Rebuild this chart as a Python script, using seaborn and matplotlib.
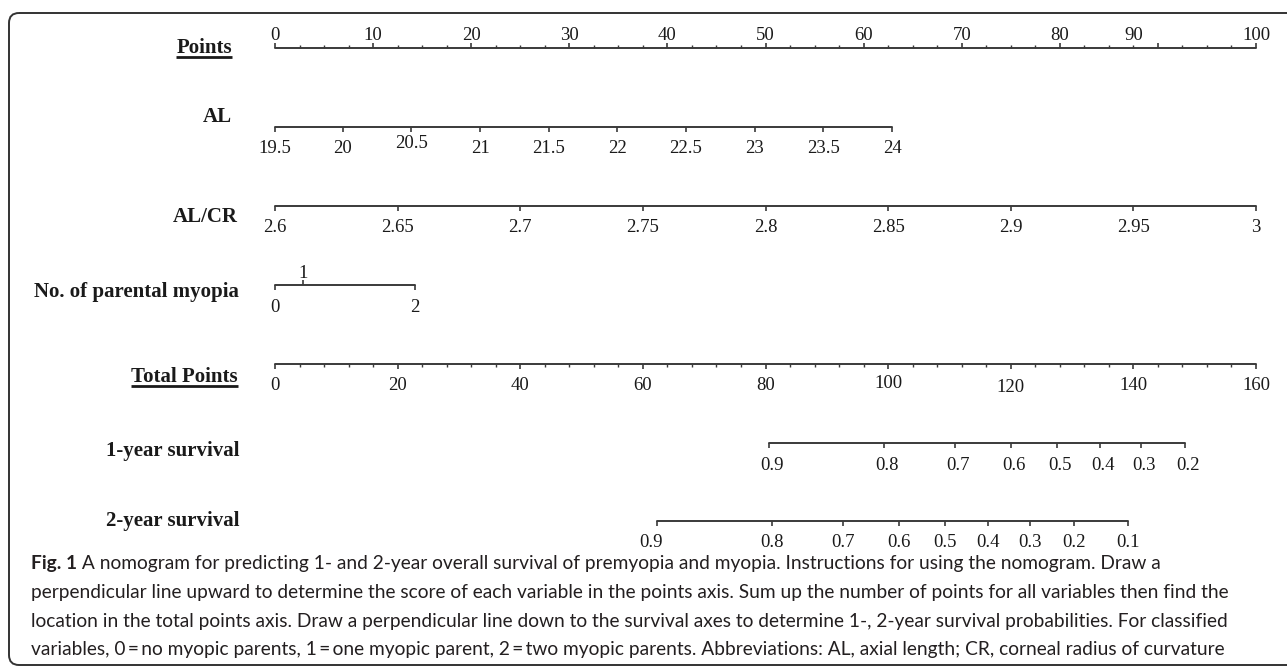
import matplotlib
matplotlib.use('Agg')
import matplotlib.pyplot as plt
import seaborn as sns
import pandas as pd
import numpy as np
from matplotlib.patches import FancyBboxPatch

# ---- data ----
points_vals = [0, 10, 20, 30, 40, 50, 60, 70, 80, 90, 100]

al_vals = ['19.5', '20', '20.5', '21', '21.5', '22', '22.5', '23', '23.5', '24']
al_pts = [0, 6.9, 13.9, 20.9, 27.9, 34.9, 41.9, 48.9, 55.9, 62.9]

alcr_vals = ['2.6', '2.65', '2.7', '2.75', '2.8', '2.85', '2.9', '2.95', '3']
alcr_pts = [0, 12.5, 25, 37.5, 50, 62.5, 75, 87.5, 100]

parent_vals = ['0', '1', '2']
parent_pts = [0, 2.9, 14.3]

total_vals = [0, 20, 40, 60, 80, 100, 120, 140, 160]

surv1_vals = ['0.9', '0.8', '0.7', '0.6', '0.5', '0.4', '0.3', '0.2']
surv1_total = [80.6, 99.3, 110.9, 120.0, 127.6, 134.5, 141.3, 148.5]

surv2_vals = ['0.9', '0.8', '0.7', '0.6', '0.5', '0.4', '0.3', '0.2', '0.1']
surv2_total = [62.3, 81.0, 92.7, 101.7, 109.3, 116.3, 123.1, 130.3, 139.2]

caption = [
    ' A nomogram for predicting 1- and 2-year overall survival of premyopia and myopia. Instructions for using the nomogram. Draw a',
    'perpendicular line upward to determine the score of each variable in the points axis. Sum up the number of points for all variables then find the',
    'location in the total points axis. Draw a perpendicular line down to the survival axes to determine 1-, 2-year survival probabilities. For classified',
    'variables, 0\u2009=\u2009no myopic parents, 1\u2009=\u2009one myopic parent, 2\u2009=\u2009two myopic parents. Abbreviations: AL, axial length; CR, corneal radius of curvature',
]

# ---- styling ----
sns.set_style('white')
W, H = 1287, 670
LINE = '#3a3a3a'
TXT = '#1a1a1a'
SERIF = 'Liberation Serif'
PX0, PX100 = 275, 1256          # pixel x of 0 and 100 points
ppp = (PX100 - PX0) / 100.0

fig = plt.figure(figsize=(W / 100, H / 100), dpi=100)

def make_ax(scale):
    a = fig.add_axes([0, 0, 1, 1])
    a.set_xlim(-PX0 / ppp * scale, (W - PX0) / ppp * scale)
    a.set_ylim(H, 0)
    a.axis('off')
    a.patch.set_alpha(0)
    return a

ax_px = fig.add_axes([0, 0, 1, 1])
ax_px.set_xlim(0, W)
ax_px.set_ylim(H, 0)
ax_px.axis('off')
ax_pts = make_ax(1.0)
ax_tp = make_ax(1.6)


def px(ax, dx):
    # convert a pixel offset into data units of ax
    x0, x1 = ax.get_xlim()
    return dx * (x1 - x0) / W


def scale(ax, pos, labels, y, tick_dir, base, minor=None, up_idx=(), up_base=None,
          dx=None, dy=None):
    df = pd.DataFrame({'x': [min(pos), max(pos)], 'y': [y, y]})
    sns.lineplot(data=df, x='x', y='y', ax=ax, color=LINE, lw=1.4, legend=False)
    for i, (p, lab) in enumerate(zip(pos, labels)):
        d = tick_dir
        b = base
        if i in up_idx:
            d = -1
            b = up_base
        ax.vlines(p, y, y + d * 5, color=LINE, lw=1.2)
        ox = px(ax, (dx or {}).get(i, 0))
        oy = (dy or {}).get(i, 0)
        ax.text(p + ox, b + oy, lab, ha='center', va='baseline', fontsize=13.5,
                family=SERIF, color=TXT)
    if minor is not None:
        ax.vlines(minor, y, y + tick_dir * 3, color=LINE, lw=1.0)


# Points (ticks upward, labels above)
scale(ax_pts, points_vals, [str(v) for v in points_vals], 48, -1, 40,
      minor=[m for m in np.arange(0, 100.1, 2.5) if m % 10],
      dx={9: -24})
scale(ax_pts, al_pts, al_vals, 127, 1, 153, dy={2: -5})
scale(ax_pts, alcr_pts, alcr_vals, 206, 1, 232)
scale(ax_pts, parent_pts, parent_vals, 285, 1, 312, up_idx=(1,), up_base=278)
scale(ax_tp, total_vals, [str(v) for v in total_vals], 363.5, 1, 390,
      minor=[m for m in np.arange(0, 160.1, 4) if m % 20],
      dy={5: -2, 6: 2})
scale(ax_tp, surv1_total, surv1_vals, 442.5, 1, 470, dx={i: 3 for i in range(8)})
scale(ax_tp, surv2_total, surv2_vals, 521, 1, 547, dx={0: -6})

# row names
names = [('Points', 232, 53), ('AL', 232, 122), ('AL/CR', 238, 222),
         ('No. of parental myopia', 239, 297), ('Total Points', 238, 382),
         ('1-year survival', 239, 456), ('2-year survival', 239, 526)]
name_txt = {}
for n, x, yb in names:
    name_txt[n] = ax_px.text(x, yb, n, ha='right', va='baseline', fontsize=15,
                             fontweight='bold', family=SERIF, color=TXT)

# frame
ax_px.add_patch(FancyBboxPatch((9, 13), 1320, 652,
                               boxstyle='round,pad=0,rounding_size=10',
                               fc='none', ec='#333333', lw=1.4, clip_on=False))

# caption
cap_base = [569, 598, 627, 655]
CAP = ['Lato', 'DejaVu Sans']
CFS = 13.8
fig_t = ax_px.text(31, cap_base[0], 'Fig. 1', ha='left', va='baseline', fontsize=CFS,
                   fontweight='bold', family=CAP, color='#231f20')
fig.canvas.draw()
r = fig.canvas.get_renderer()
bb = fig_t.get_window_extent(r)
ax_px.text(bb.x1, cap_base[0], caption[0], ha='left', va='baseline', fontsize=CFS,
           family=CAP, color='#231f20')
for line, yb in zip(caption[1:], cap_base[1:]):
    ax_px.text(31, yb, line, ha='left', va='baseline', fontsize=CFS,
               family=CAP, color='#231f20')

# underlines
for n, yu in [('Points', 57), ('Total Points', 386)]:
    b = name_txt[n].get_window_extent(r)
    ax_px.plot([b.x0, b.x1], [yu, yu], color=TXT, lw=2.0, solid_capstyle='butt')

fig.savefig('out.png', dpi=100)
